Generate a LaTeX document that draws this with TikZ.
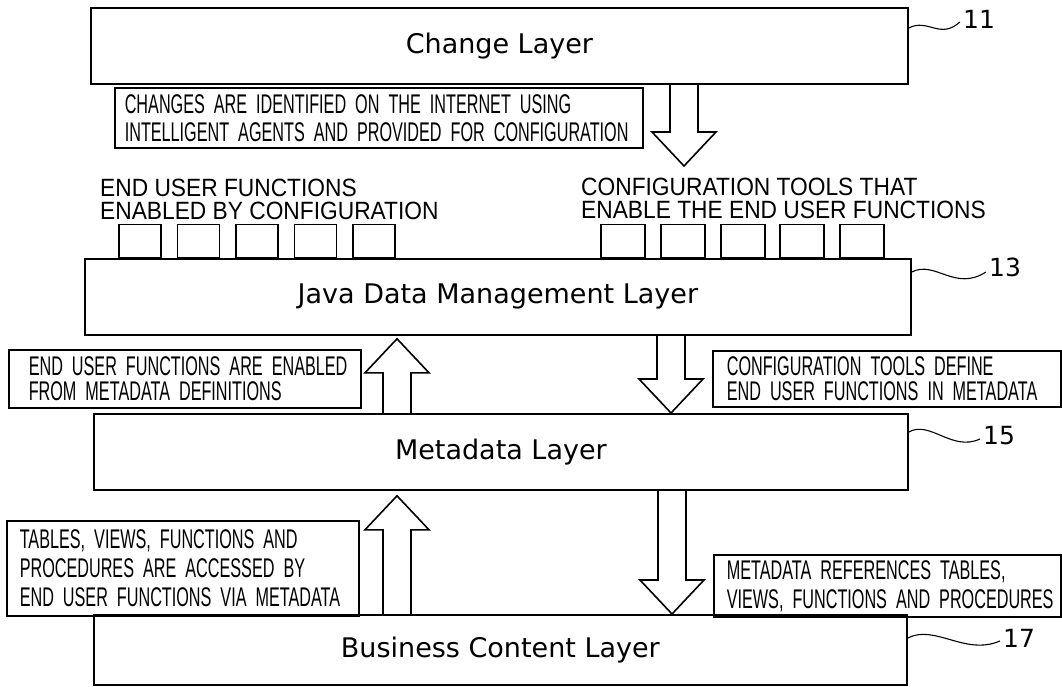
\documentclass[tikz,border=0pt]{standalone}
\usepackage{fontspec}
\setmainfont{DejaVu Sans}
\newfontfamily\titlefont{DejaVu Sans}
\newfontfamily\headfont[FakeStretch=0.91]{Liberation Sans}
\newfontfamily\notefont[FakeStretch=0.60]{Liberation Sans}
\usetikzlibrary{calc}

% narrow word spaces for the condensed note lettering
\newcommand\notespacing{\spaceskip=4.5pt\xspaceskip=4.5pt}

% hollow block arrow from coordinate #1 (start of shaft) to coordinate #2 (tip)
\newcommand\blockarrow[2]{%
  \path ($(#2)!34pt!(#1)$) coordinate (hb);
  \draw[blockline] ($(#1)+(-14,0)$) -- ($(hb)+(-14,0)$) -- ($(hb)+(-32,0)$)
    -- (#2) -- ($(hb)+(32,0)$) -- ($(hb)+(14,0)$) -- ($(#1)+(14,0)$);
}

\tikzset{
  layer/.style={draw, line width=1.8pt, inner sep=0pt, anchor=north west,
    font=\titlefont\fontsize{27}{30}\selectfont},
  notebox/.style={draw, line width=1.6pt, anchor=north west, align=left,
    inner ysep=0pt, font=\notefont\fontsize{27}{#1}\selectfont\notespacing},
  notebox/.default=25,
  headtext/.style={anchor=north west, align=left, inner sep=0pt,
    font=\headfont\fontsize{25}{23}\selectfont},
  fnbox/.style={draw, line width=1.5pt, minimum width=42pt, minimum height=33pt,
    inner sep=0pt, anchor=south west},
  blockline/.style={line width=1.6pt, line join=miter},
  leader/.style={line width=1.1pt},
  refnum/.style={font=\titlefont\fontsize{25}{25}\selectfont, inner sep=0pt},
}

\begin{document}
\begin{tikzpicture}[x=1pt,y=-1pt]
\useasboundingbox (0,0) rectangle (1062,687);
\fill[white] (0,0) rectangle (1062,687);

% layers
\node[layer, minimum width=817pt, minimum height=76pt] (change) at (90,7) {Change Layer};
\node[layer, minimum width=826pt, minimum height=76pt] (java) at (84,258) {Java Data Management Layer};
\node[layer, minimum width=814pt, minimum height=76pt] (meta) at (93,413) {Metadata Layer};
\node[layer, minimum width=813pt, minimum height=70pt] (biz) at (93,614) {Business Content Layer};

% reference numerals
\node[refnum] (r11) at (979,19) {11};
\node[refnum] (r13) at (1005,267) {13};
\node[refnum] (r15) at (999,436) {15};
\node[refnum] (r17) at (1019,638) {17};
\draw[leader] (change.east |- 0,28) .. controls (928,18) and (940,40) .. ([xshift=-3pt,yshift=-3pt]r11.west);
\draw[leader] (java.east |- 0,272) .. controls (935,260) and (955,292) .. ([xshift=-3pt,yshift=-5pt]r13.west);
\draw[leader] (meta.east |- 0,432) .. controls (930,420) and (952,452) .. ([xshift=-3pt,yshift=-3pt]r15.west);
\draw[leader] (biz.east |- 0,638) .. controls (935,624) and (965,656) .. ([xshift=-3pt,yshift=-3pt]r17.west);

% explanatory boxes
\node[notebox=28, text width=508pt, inner xsep=10pt, minimum height=60pt] (notechg) at (114,87)
  {\mbox{CHANGES ARE IDENTIFIED ON THE INTERNET USING}\\\mbox{INTELLIGENT AGENTS AND PROVIDED FOR CONFIGURATION}};
\node[notebox=25, text width=312pt, inner xsep=20pt, minimum height=58pt] (noteup1) at (8,349)
  {\mbox{END USER FUNCTIONS ARE ENABLED}\\\mbox{FROM METADATA DEFINITIONS}};
\node[notebox=25, text width=320pt, inner xsep=14pt, minimum height=56pt] (notedn1) at (712,350)
  {\mbox{CONFIGURATION TOOLS DEFINE}\\\mbox{END USER FUNCTIONS IN METADATA}};
\node[notebox=29, text width=326pt, inner xsep=13pt, minimum height=95pt] (noteup2) at (6,520)
  {\mbox{TABLES, VIEWS, FUNCTIONS AND}\\\mbox{PROCEDURES ARE ACCESSED BY}\\\mbox{END USER FUNCTIONS VIA METADATA}};
\node[notebox=29, text width=321pt, inner xsep=13pt, minimum height=62pt] (notedn2) at (713,554)
  {\mbox{METADATA REFERENCES TABLES,}\\\mbox{VIEWS, FUNCTIONS AND PROCEDURES}};

% captions above the function boxes
\node[headtext] (capuser) at (100,179) {END USER FUNCTIONS\\ENABLED BY CONFIGURATION};
\node[headtext] (captool) at (581,178) {CONFIGURATION TOOLS THAT\\ENABLE THE END USER FUNCTIONS};

% end user functions and configuration tools sitting on the Java layer
\foreach \i/\x in {1/118,2/176.5,3/235,4/293.5,5/352}
  \node[fnbox] (uf\i) at (\x,0 |- java.north) {};
\foreach \i/\x in {1/600,2/660,3/720,4/779,5/839}
  \node[fnbox, minimum width=44pt] (ct\i) at (\x,0 |- java.north) {};

% block arrows between the layers
\coordinate (startA) at (684,0 |- change.south);
\coordinate (tipA) at (684,166);
\coordinate (startB) at (671,0 |- java.south);
\coordinate (tipB) at (671,0 |- meta.north);
\coordinate (startC) at (397,0 |- meta.north);
\coordinate (tipC) at ([yshift=-3pt]397,0 |- java.south);
\coordinate (startD) at (397,0 |- biz.north);
\coordinate (tipD) at ([yshift=-5pt]397,0 |- meta.south);
\coordinate (startE) at (672,0 |- meta.south);
\coordinate (tipE) at (672,0 |- biz.north);
\blockarrow{startA}{tipA}
\blockarrow{startB}{tipB}
\blockarrow{startC}{tipC}
\blockarrow{startD}{tipD}
\blockarrow{startE}{tipE}
\end{tikzpicture}
\end{document}
